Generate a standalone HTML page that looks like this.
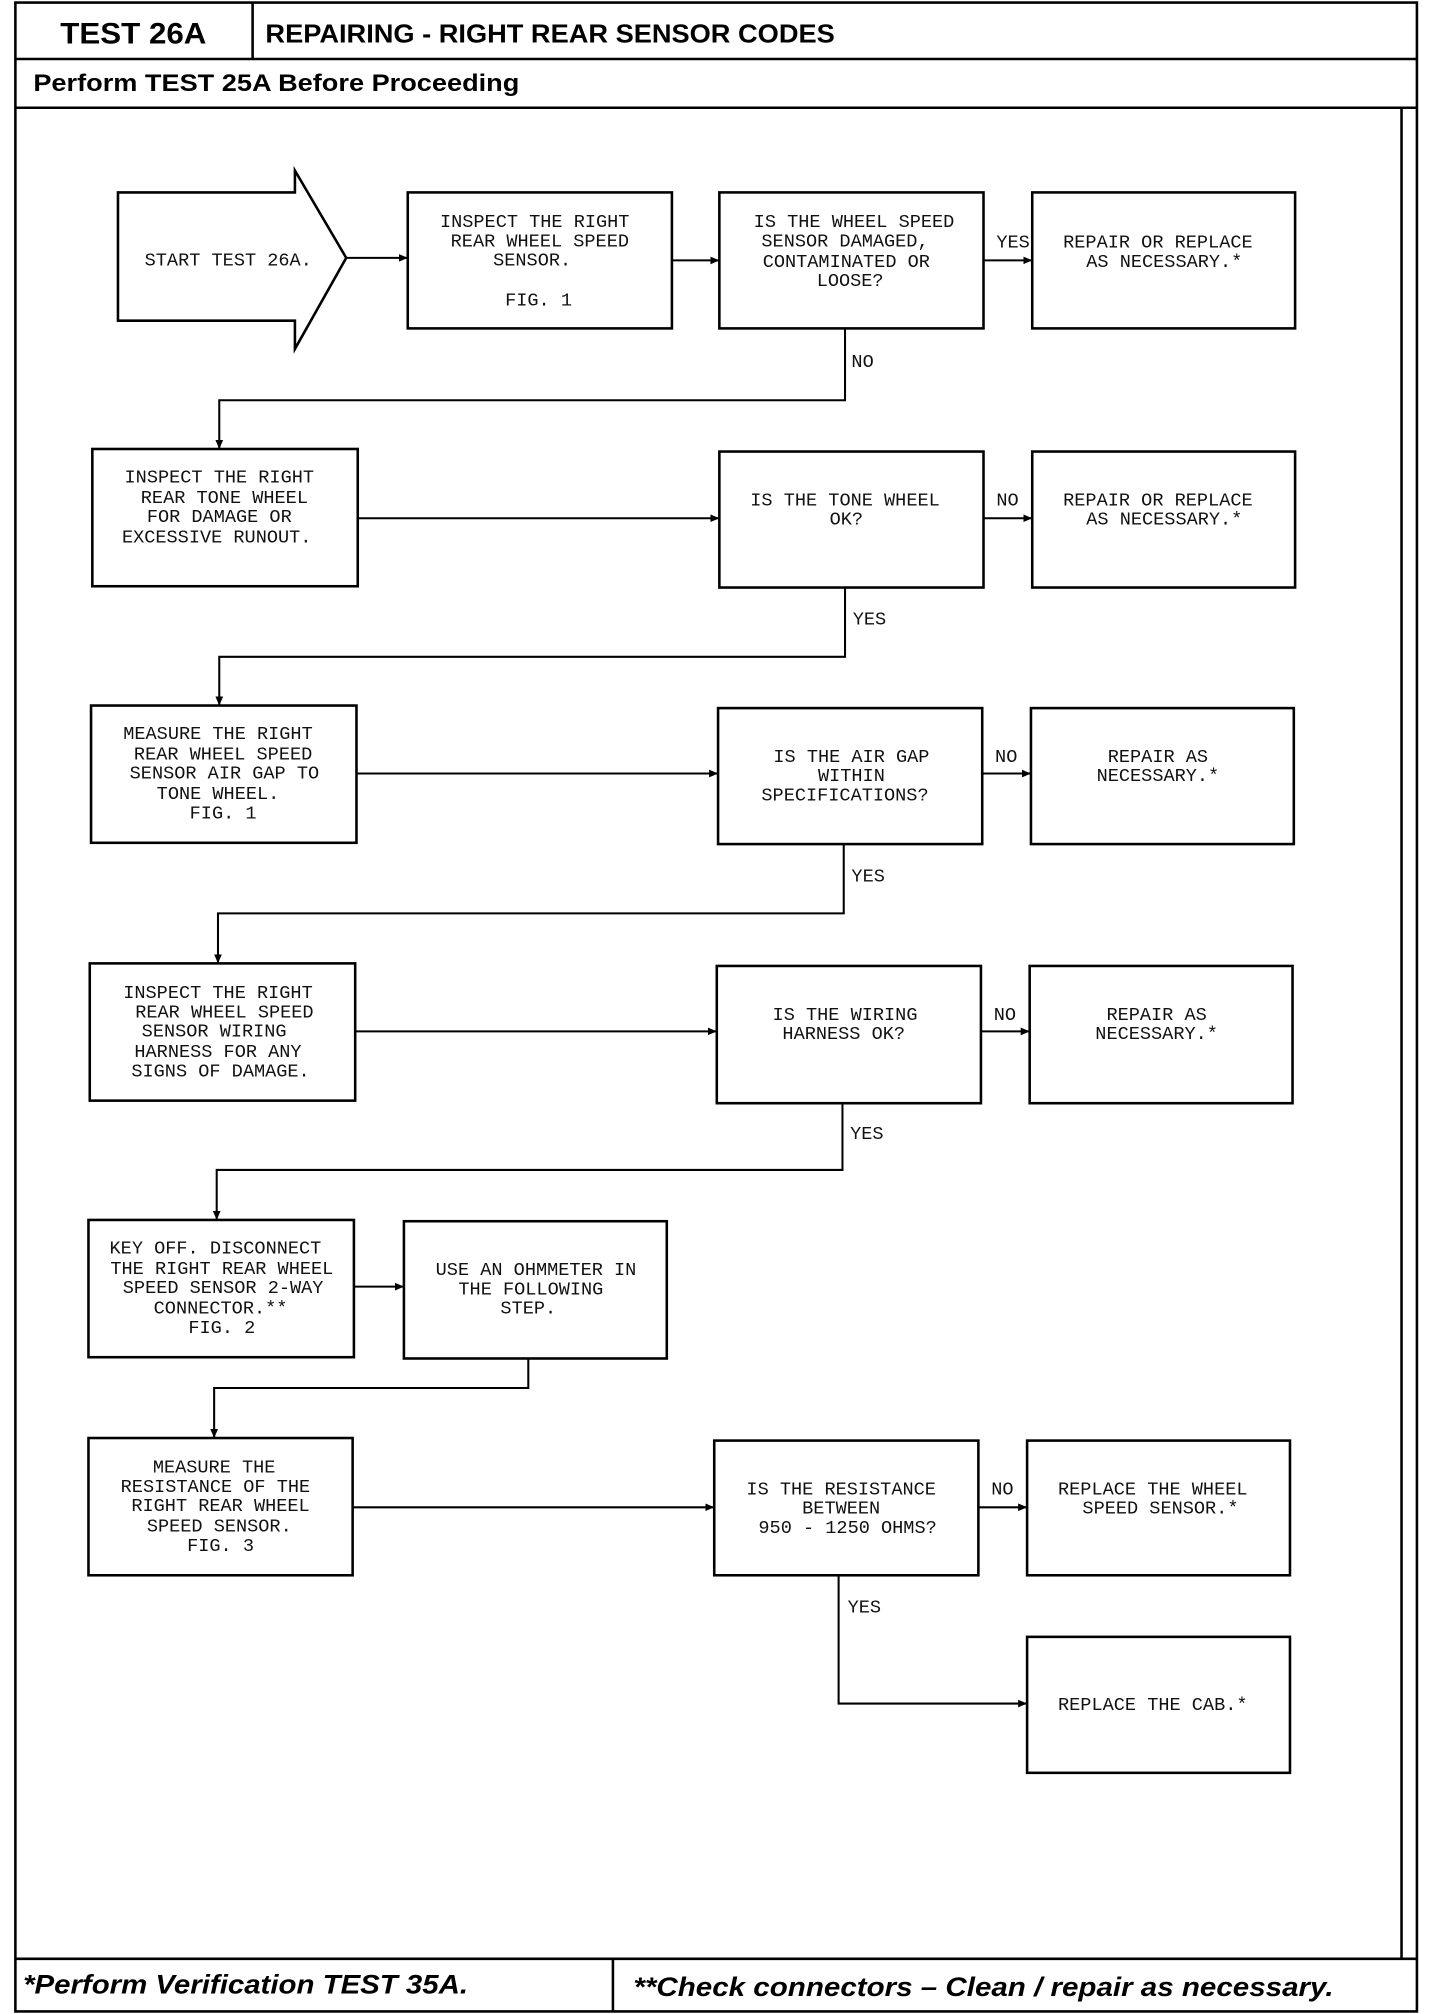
<!DOCTYPE html>
<html><head><meta charset="utf-8"><style>
html,body{margin:0;padding:0;background:#fff;}
svg{display:block;}
.t{font-family:"Liberation Mono",monospace;font-size:14.5px;fill:#111;text-anchor:middle;}
.l{font-family:"Liberation Mono",monospace;font-size:14.5px;fill:#111;}
.h{font-family:"Liberation Sans",sans-serif;font-weight:bold;fill:#000;}
</style></head><body>
<svg width="1440" height="2014" viewBox="0 0 1123 1570" preserveAspectRatio="none" xmlns="http://www.w3.org/2000/svg">
<defs><marker id="a" markerWidth="8" markerHeight="8" refX="7" refY="3" orient="auto" markerUnits="userSpaceOnUse"><path d="M0,0 L7,3 L0,6 z" fill="#000"/></marker></defs>
<g fill="none" stroke="#000" stroke-width="2">
<rect x="12" y="2" width="1093" height="1566"/>
<line x1="12" y1="46" x2="1105" y2="46"/>
<line x1="197" y1="2" x2="197" y2="46"/>
<line x1="12" y1="84" x2="1105" y2="84"/>
<line x1="1093" y1="84" x2="1093" y2="1527"/>
<line x1="12" y1="1527" x2="1105" y2="1527"/>
<line x1="478" y1="1527" x2="478" y2="1568"/>
<path d="M92,150 L230,150 L230,133 L270,201 L230,272 L230,250 L92,250 Z"/>
<rect x="318" y="150" width="206" height="106"/>
<rect x="561" y="150" width="206" height="106"/>
<rect x="805" y="150" width="205" height="106"/>
<rect x="72" y="350" width="207" height="107"/>
<rect x="561" y="352" width="206" height="106"/>
<rect x="805" y="352" width="205" height="106"/>
<rect x="71" y="550" width="207" height="107"/>
<rect x="560" y="552" width="206" height="106"/>
<rect x="804" y="552" width="205" height="106"/>
<rect x="70" y="751" width="207" height="107"/>
<rect x="559" y="753" width="206" height="107"/>
<rect x="803" y="753" width="205" height="107"/>
<rect x="69" y="951" width="207" height="107"/>
<rect x="315" y="952" width="205" height="107"/>
<rect x="69" y="1121" width="206" height="107"/>
<rect x="557" y="1123" width="206" height="105"/>
<rect x="801" y="1123" width="205" height="105"/>
<rect x="801" y="1276" width="205" height="106"/>
</g>
<g fill="none" stroke="#000" stroke-width="1.6" marker-end="url(#a)">
<line x1="270" y1="201" x2="318" y2="201"/>
<line x1="524" y1="203" x2="561" y2="203"/>
<line x1="767" y1="203" x2="805" y2="203"/>
<polyline points="659,256 659,312 171,312 171,350"/>
<line x1="279" y1="404" x2="561" y2="404"/>
<line x1="767" y1="404" x2="805" y2="404"/>
<polyline points="659,458 659,512 171,512 171,550"/>
<line x1="278" y1="603" x2="560" y2="603"/>
<line x1="766" y1="603" x2="804" y2="603"/>
<polyline points="658,658 658,712 170,712 170,751"/>
<line x1="277" y1="804" x2="559" y2="804"/>
<line x1="765" y1="804" x2="803" y2="804"/>
<polyline points="657,860 657,912 169,912 169,951"/>
<line x1="276" y1="1003" x2="315" y2="1003"/>
<polyline points="412,1059 412,1082 167,1082 167,1121"/>
<line x1="275" y1="1175" x2="557" y2="1175"/>
<line x1="763" y1="1175" x2="801" y2="1175"/>
<polyline points="654,1228 654,1328 801,1328"/>
</g>
<text class="h" x="47" y="34" font-size="23" textLength="114" lengthAdjust="spacingAndGlyphs">TEST 26A</text>
<text class="h" x="207" y="33" font-size="20" textLength="444" lengthAdjust="spacingAndGlyphs">REPAIRING - RIGHT REAR SENSOR CODES</text>
<text class="h" x="26" y="71" font-size="19" textLength="379" lengthAdjust="spacingAndGlyphs">Perform TEST 25A Before Proceeding</text>
<text class="h" x="18" y="1554" font-size="21" font-style="italic" textLength="347" lengthAdjust="spacingAndGlyphs">*Perform Verification TEST 35A.</text>
<text class="h" x="494" y="1556" font-size="21" font-style="italic" textLength="546" lengthAdjust="spacingAndGlyphs">**Check connectors – Clean / repair as necessary.</text>
<g class="t">
<text x="178" y="207">START TEST 26A.</text>
<text x="417" y="177">INSPECT THE RIGHT</text><text x="421" y="192">REAR WHEEL SPEED</text><text x="415" y="207">SENSOR.</text><text x="420" y="238">FIG. 1</text>
<text x="666" y="177">IS THE WHEEL SPEED</text><text x="659" y="192">SENSOR DAMAGED,</text><text x="660" y="208">CONTAMINATED OR</text><text x="663" y="223">LOOSE?</text>
<text x="903" y="193">REPAIR OR REPLACE</text><text x="908" y="208">AS NECESSARY.*</text>
<text x="171" y="376">INSPECT THE RIGHT</text><text x="175" y="392">REAR TONE WHEEL</text><text x="171" y="407">FOR DAMAGE OR</text><text x="169" y="423">EXCESSIVE RUNOUT.</text>
<text x="659" y="394">IS THE TONE WHEEL</text><text x="660" y="409">OK?</text>
<text x="903" y="394">REPAIR OR REPLACE</text><text x="908" y="409">AS NECESSARY.*</text>
<text x="170" y="576">MEASURE THE RIGHT</text><text x="174" y="592">REAR WHEEL SPEED</text><text x="175" y="607">SENSOR AIR GAP TO</text><text x="170" y="623">TONE WHEEL.</text><text x="174" y="638">FIG. 1</text>
<text x="664" y="594">IS THE AIR GAP</text><text x="664" y="609">WITHIN</text><text x="659" y="624">SPECIFICATIONS?</text>
<text x="903" y="594">REPAIR AS</text><text x="903" y="609">NECESSARY.*</text>
<text x="170" y="778">INSPECT THE RIGHT</text><text x="175" y="793">REAR WHEEL SPEED</text><text x="167" y="808">SENSOR WIRING</text><text x="170" y="824">HARNESS FOR ANY</text><text x="172" y="839">SIGNS OF DAMAGE.</text>
<text x="659" y="795">IS THE WIRING</text><text x="658" y="810">HARNESS OK?</text>
<text x="902" y="795">REPAIR AS</text><text x="902" y="810">NECESSARY.*</text>
<text x="168" y="977">KEY OFF. DISCONNECT</text><text x="173" y="993">THE RIGHT REAR WHEEL</text><text x="174" y="1008">SPEED SENSOR 2-WAY</text><text x="172" y="1024">CONNECTOR.**</text><text x="173" y="1039">FIG. 2</text>
<text x="418" y="994">USE AN OHMMETER IN</text><text x="414" y="1009">THE FOLLOWING</text><text x="412" y="1024">STEP.</text>
<text x="167" y="1148">MEASURE THE</text><text x="168" y="1163">RESISTANCE OF THE</text><text x="172" y="1178">RIGHT REAR WHEEL</text><text x="171" y="1194">SPEED SENSOR.</text><text x="172" y="1209">FIG. 3</text>
<text x="656" y="1165">IS THE RESISTANCE</text><text x="656" y="1180">BETWEEN</text><text x="661" y="1195">950 - 1250 OHMS?</text>
<text x="899" y="1165">REPLACE THE WHEEL</text><text x="905" y="1180">SPEED SENSOR.*</text>
<text x="899" y="1333">REPLACE THE CAB.*</text>
</g>
<g class="l">
<text x="777" y="193">YES</text>
<text x="664" y="286">NO</text>
<text x="777" y="394">NO</text>
<text x="665" y="487">YES</text>
<text x="776" y="594">NO</text>
<text x="664" y="687">YES</text>
<text x="775" y="795">NO</text>
<text x="663" y="888">YES</text>
<text x="773" y="1165">NO</text>
<text x="661" y="1257">YES</text>
</g>
</svg>
</body></html>
